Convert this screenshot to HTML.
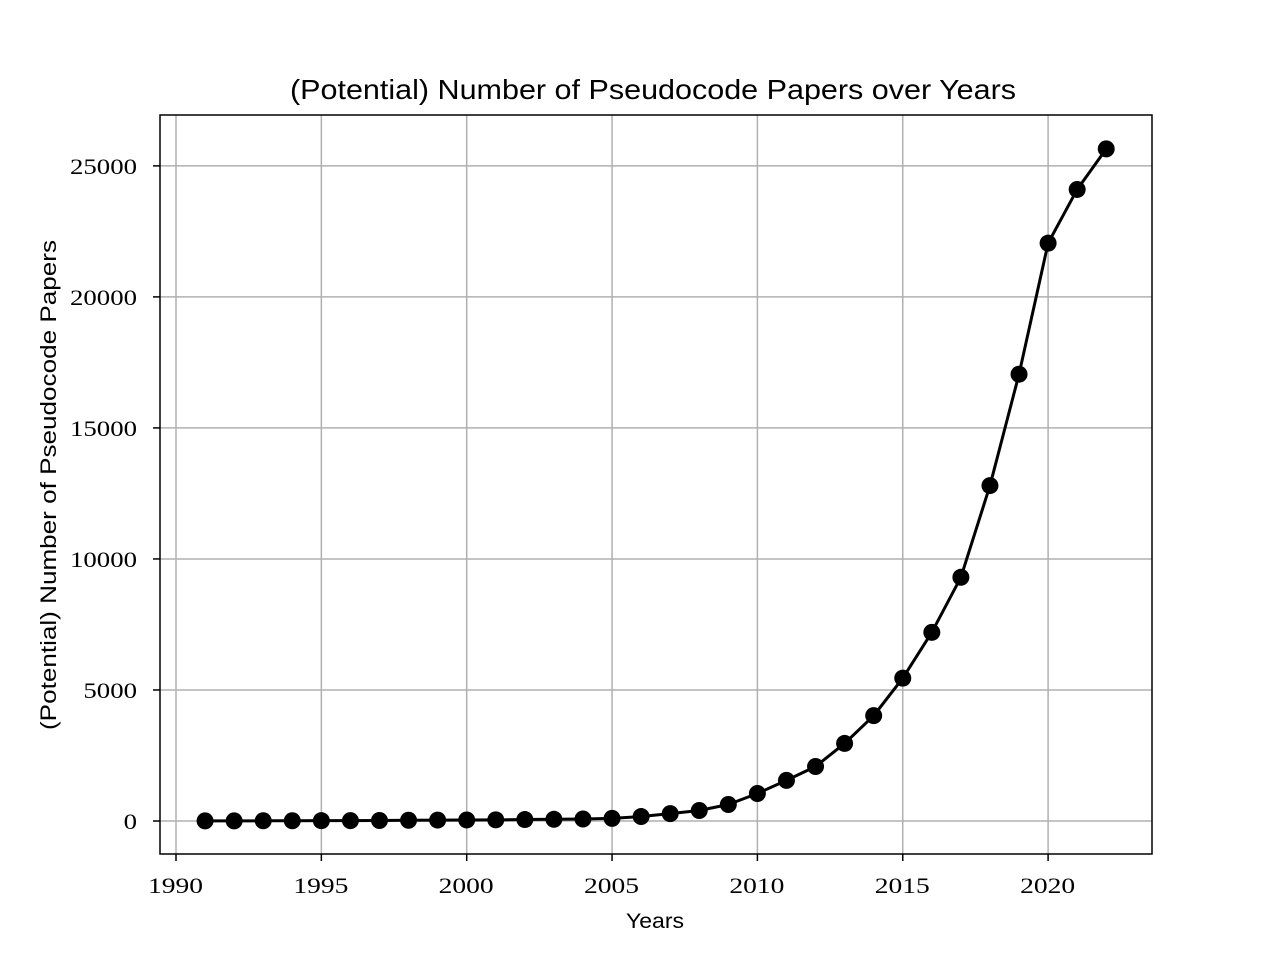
<!DOCTYPE html>
<html><head><meta charset="utf-8">
<style>
html,body{margin:0;padding:0;background:#fff;}
svg{display:block;}
.sans{font-family:"Liberation Sans","DejaVu Sans",sans-serif;}
.serif{font-family:"Liberation Serif","DejaVu Serif",serif;}
</style></head>
<body>
<svg id="chart" width="1280" height="960" viewBox="0 0 1280 960">
<rect width="1280" height="960" fill="#fff"/>
<g id="grid"></g>
<g id="series"></g>
<rect x="160" y="115" width="992" height="739" fill="none" stroke="#000" stroke-width="1.5"/>
<g id="ticks"></g>
<text x="290" y="99" textLength="726" lengthAdjust="spacingAndGlyphs" font-size="28" class="sans">(Potential) Number of Pseudocode Papers over Years</text>
<text x="626" y="928" textLength="58" lengthAdjust="spacingAndGlyphs" font-size="21" class="sans">Years</text>
<text transform="translate(56,730) rotate(-90)" textLength="490" lengthAdjust="spacingAndGlyphs" font-size="22" class="sans">(Potential) Number of Pseudocode Papers</text>
</svg>
<script>
const years = [1991,1992,1993,1994,1995,1996,1997,1998,1999,2000,2001,2002,2003,2004,2005,2006,2007,2008,2009,2010,2011,2012,2013,2014,2015,2016,2017,2018,2019,2020,2021,2022];
const papers = [5,5,8,10,12,15,20,30,35,40,45,55,65,75,100,170,280,400,630,1050,1550,2080,2960,4020,5450,7200,9300,12800,17050,22050,24100,25650];
const xTicks = [1990,1995,2000,2005,2010,2015,2020];
const yTicks = [0,5000,10000,15000,20000,25000];

const NS = "http://www.w3.org/2000/svg";
function xs(v){ return 176 + (v - 1990) * 29.07; }
function ys(v){ return 821 - v * 0.026205; }
function mk(tag, attrs, parent){ const e = document.createElementNS(NS, tag); for (const k in attrs) e.setAttribute(k, attrs[k]); parent.appendChild(e); return e; }
const grid = document.getElementById('grid'), ticks = document.getElementById('ticks'), series = document.getElementById('series');

xTicks.forEach(t => {
  const x = xs(t);
  const g = mk('line', {x1:x, x2:x, y1:115, y2:854, stroke:'#b0b0b0', 'stroke-width':1.5}, grid);
  
  
  const tk = mk('line', {x1:x, x2:x, y1:854, y2:861, stroke:'#000', 'stroke-width':1.5}, ticks);
  
  
  const lb = mk('text', {x:x - 28, y:893, textLength:55, lengthAdjust:'spacingAndGlyphs', 'font-size':22, class:'serif'}, ticks);
  lb.textContent = t;
  
  
});
yTicks.forEach(t => {
  const y = ys(t);
  const g = mk('line', {x1:160, x2:1152, y1:y, y2:y, stroke:'#b0b0b0', 'stroke-width':1.5}, grid);
  
  
  const tk = mk('line', {x1:153, x2:160, y1:y, y2:y, stroke:'#000', 'stroke-width':1.5}, ticks);
  
  
  const len = String(t).length * 13.4;
  const lb = mk('text', {x:137 - len, y:y + 8, textLength:len, lengthAdjust:'spacingAndGlyphs', 'font-size':22, class:'serif'}, ticks);
  lb.textContent = t;
  
  
});
const pts = years.map((yr, i) => xs(yr) + ',' + ys(papers[i])).join(' ');
const line = mk('polyline', {points:pts, fill:'none', stroke:'#000', 'stroke-width':3, 'stroke-linejoin':'round'}, series);


years.forEach((yr, i) => {
  const c = mk('circle', {cx:xs(yr), cy:ys(papers[i]), r:8.5, fill:'#000'}, series);
  
  
});
</script>
</body></html>
